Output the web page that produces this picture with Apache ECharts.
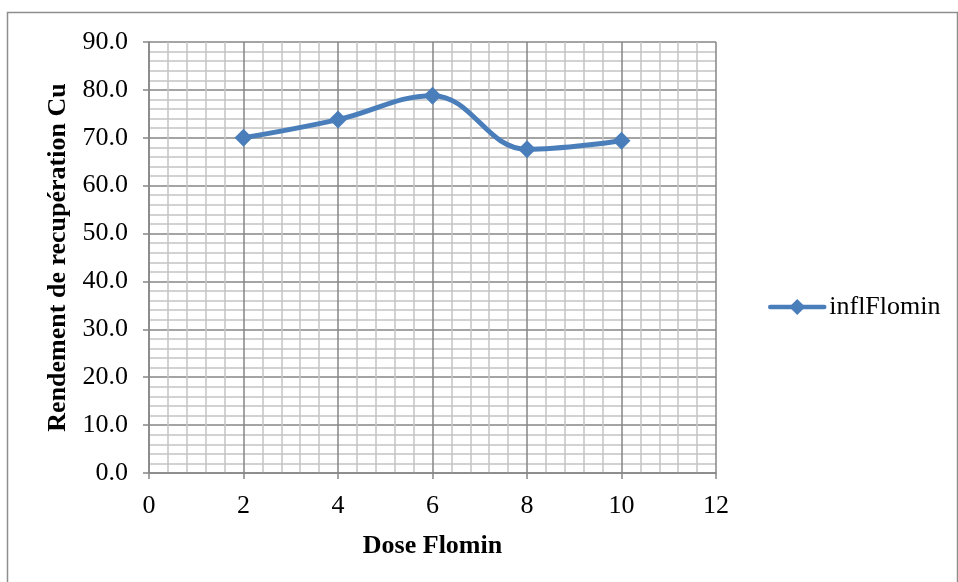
<!DOCTYPE html>
<html>
<head>
<meta charset="utf-8">
<script src="https://cdn.jsdelivr.net/npm/echarts@6/dist/echarts.min.js"></script>
<style>
html,body{margin:0;padding:0;background:#fff;}
#chart{width:958px;height:582px;}
</style>
</head>
<body>
<div id="chart"></div>
<script>
const doses = [2, 4, 6, 8, 10];
const rendement = [70.0, 73.8, 78.8, 67.6, 69.4];
const seriesName = 'inflFlomin';
const xTitle = 'Dose Flomin';
const yTitle = 'Rendement de recupération Cu';

const chart = echarts.init(document.getElementById('chart'));
const font = '"Liberation Serif", "Times New Roman", serif';
const major = '#868686';
const minor = '#c4c4c4';
const blue = '#4a7ebb';

chart.setOption({
  backgroundColor: '#ffffff',
  animation: false,
  graphic: [{
    type: 'rect',
    shape: { x: 7.5, y: 12.5, width: 950, height: 600 },
    style: { fill: 'none', stroke: '#8e8e8e', lineWidth: 1.5 },
    silent: true
  }],
  grid: { left: 149, top: 42, right: 242, bottom: 109, containLabel: false },
  legend: {
    left: 763, top: 289,
    itemWidth: 54, itemHeight: 20,
    itemGap: 4,
    data: [seriesName],
    lineStyle: { width: 4.5, color: blue },
    textStyle: { fontFamily: font, fontSize: 26, color: '#000' }
  },
  xAxis: {
    type: 'value', min: 0, max: 12, interval: 2,
    name: xTitle, nameLocation: 'middle', nameGap: 60,
    nameTextStyle: { fontFamily: font, fontSize: 26, fontWeight: 'bold', color: '#000' },
    axisLine: { show: true, lineStyle: { color: major, width: 1.5 } },
    axisTick: { show: true, length: 6, inside: false, lineStyle: { color: major, width: 1.5 } },
    axisLabel: { fontFamily: font, fontSize: 26, color: '#000', margin: 20 },
    splitLine: { show: true, lineStyle: { color: major, width: 1.5 } },
    minorTick: { show: false, splitNumber: 5 },
    minorSplitLine: { show: true, lineStyle: { color: minor, width: 1.5 } }
  },
  yAxis: {
    type: 'value', min: 0, max: 90, interval: 10,
    name: yTitle, nameLocation: 'middle', nameGap: 78, nameRotate: 90,
    nameTextStyle: { fontFamily: font, fontSize: 26, fontWeight: 'bold', color: '#000' },
    axisLine: { show: true, lineStyle: { color: major, width: 1.5 } },
    axisTick: { show: true, length: 6, inside: false, lineStyle: { color: major, width: 1.5 } },
    axisLabel: { fontFamily: font, fontSize: 26, color: '#000', margin: 21,
      formatter: v => v.toFixed(1) },
    splitLine: { show: true, lineStyle: { color: major, width: 1.5 } },
    minorTick: { show: false, splitNumber: 5 },
    minorSplitLine: { show: true, lineStyle: { color: minor, width: 1.5 } }
  },
  series: [{
    name: seriesName,
    type: 'line',
    data: doses.map((d, i) => [d, rendement[i]]),
    smooth: 0.4,
    symbol: 'diamond',
    symbolSize: 18,
    itemStyle: { color: blue },
    lineStyle: { color: blue, width: 5, cap: 'round', join: 'round' }
  }]
});
</script>
</body>
</html>
